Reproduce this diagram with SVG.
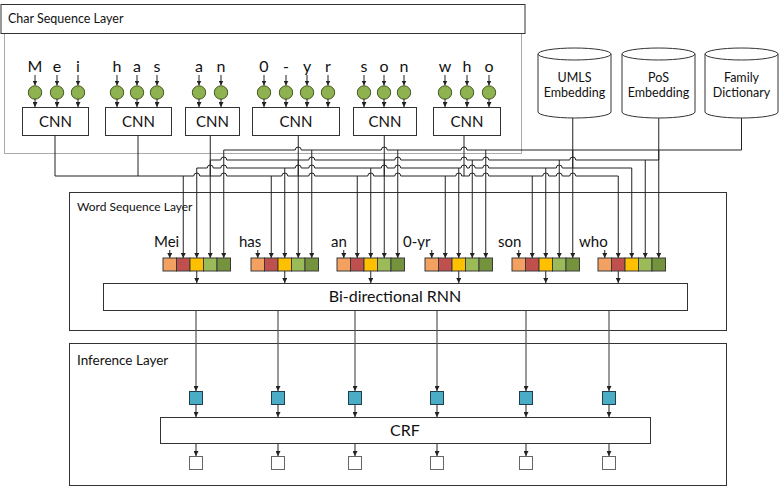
<svg xmlns="http://www.w3.org/2000/svg" width="779" height="487" viewBox="0 0 779 487">
<defs>
<marker id="ah" markerWidth="5" markerHeight="5" refX="5" refY="2.5" orient="auto" markerUnits="userSpaceOnUse"><path d="M0,0 L5,2.5 L0,5 z" fill="#222"/></marker>
</defs>
<style>
text{font-family:Lato,"Liberation Sans",sans-serif;fill:#111}
.ch{font-size:16px;text-anchor:middle}
.cnn{font-size:15px;text-anchor:middle}
.cy{font-size:12.5px;text-anchor:middle}
.lbl{font-size:15px}
.box{fill:#fff;stroke:#333;stroke-width:1}
.c{fill:#8db24f;stroke:#44561f;stroke-width:1}
.w{fill:none;stroke:#222;stroke-width:1}
.a{fill:none;stroke:#222;stroke-width:1;marker-end:url(#ah)}
.g{fill:none;stroke:#555;stroke-width:1.2;marker-end:url(#ah)}
.s{stroke:#3a3a3a;stroke-width:1}
.o{fill:#f2a160}.r{fill:#c0504d}.y{fill:#ffc000}.lg{fill:#9bbb59}.dg{fill:#74933c}
.blue{fill:#4bacc6;stroke:#1f3f4f;stroke-width:1}
.out{fill:#fff;stroke:#666;stroke-width:1}
</style>
<rect width="779" height="487" fill="#fff"/>

<g id="char-layer">
<rect x="4.5" y="4.5" width="517" height="149" fill="#fff" stroke="#aaa"/>
<rect x="1" y="4.5" width="524" height="29" class="box"/>
<text x="8" y="23" font-size="12.5">Char Sequence Layer</text>
</g>

<g id="char-mei">
<text class="ch" x="35" y="72">M</text><text class="ch" x="57" y="72">e</text><text class="ch" x="78" y="72">i</text>
<path class="a" d="M35,75 V85.5"/><path class="a" d="M57,75 V85.5"/><path class="a" d="M78,75 V85.5"/>
<circle class="c" cx="35" cy="92.5" r="6.7"/><circle class="c" cx="57" cy="92.5" r="6.7"/><circle class="c" cx="78" cy="92.5" r="6.7"/>
<path class="a" d="M35,99 V107"/><path class="a" d="M57,99 V107"/><path class="a" d="M78,99 V107"/>
<rect class="box" x="22.5" y="107.5" width="66" height="28"/><text class="cnn" x="55.5" y="127">CNN</text>
</g>
<g id="char-has">
<text class="ch" x="117" y="72">h</text><text class="ch" x="137" y="72">a</text><text class="ch" x="157" y="72">s</text>
<path class="a" d="M117,75 V85.5"/><path class="a" d="M137,75 V85.5"/><path class="a" d="M157,75 V85.5"/>
<circle class="c" cx="117" cy="92.5" r="6.7"/><circle class="c" cx="137" cy="92.5" r="6.7"/><circle class="c" cx="157" cy="92.5" r="6.7"/>
<path class="a" d="M117,99 V107"/><path class="a" d="M137,99 V107"/><path class="a" d="M157,99 V107"/>
<rect class="box" x="105.5" y="107.5" width="66" height="28"/><text class="cnn" x="138.5" y="127">CNN</text>
</g>
<g id="char-an">
<text class="ch" x="199" y="72">a</text><text class="ch" x="221" y="72">n</text>
<path class="a" d="M199,75 V85.5"/><path class="a" d="M221,75 V85.5"/>
<circle class="c" cx="199" cy="92.5" r="6.7"/><circle class="c" cx="221" cy="92.5" r="6.7"/>
<path class="a" d="M199,99 V107"/><path class="a" d="M221,99 V107"/>
<rect class="box" x="185.5" y="107.5" width="54" height="28"/><text class="cnn" x="212.5" y="127">CNN</text>
</g>
<g id="char-0yr">
<text class="ch" x="264" y="72">0</text><text class="ch" x="286" y="72">-</text><text class="ch" x="307" y="72">y</text><text class="ch" x="328" y="72">r</text>
<path class="a" d="M264,75 V85.5"/><path class="a" d="M286,75 V85.5"/><path class="a" d="M307,75 V85.5"/><path class="a" d="M328,75 V85.5"/>
<circle class="c" cx="264" cy="92.5" r="6.7"/><circle class="c" cx="286" cy="92.5" r="6.7"/><circle class="c" cx="307" cy="92.5" r="6.7"/><circle class="c" cx="328" cy="92.5" r="6.7"/>
<path class="a" d="M264,99 V107"/><path class="a" d="M286,99 V107"/><path class="a" d="M307,99 V107"/><path class="a" d="M328,99 V107"/>
<rect class="box" x="252.5" y="107.5" width="87" height="28"/><text class="cnn" x="296" y="127">CNN</text>
</g>
<g id="char-son">
<text class="ch" x="364" y="72">s</text><text class="ch" x="384" y="72">o</text><text class="ch" x="404" y="72">n</text>
<path class="a" d="M364,75 V85.5"/><path class="a" d="M384,75 V85.5"/><path class="a" d="M404,75 V85.5"/>
<circle class="c" cx="364" cy="92.5" r="6.7"/><circle class="c" cx="384" cy="92.5" r="6.7"/><circle class="c" cx="404" cy="92.5" r="6.7"/>
<path class="a" d="M364,99 V107"/><path class="a" d="M384,99 V107"/><path class="a" d="M404,99 V107"/>
<rect class="box" x="353.5" y="107.5" width="63" height="28"/><text class="cnn" x="385" y="127">CNN</text>
</g>
<g id="char-who">
<text class="ch" x="445" y="72">w</text><text class="ch" x="467" y="72">h</text><text class="ch" x="489" y="72">o</text>
<path class="a" d="M445,75 V85.5"/><path class="a" d="M467,75 V85.5"/><path class="a" d="M489,75 V85.5"/>
<circle class="c" cx="445" cy="92.5" r="6.7"/><circle class="c" cx="467" cy="92.5" r="6.7"/><circle class="c" cx="489" cy="92.5" r="6.7"/>
<path class="a" d="M445,99 V107"/><path class="a" d="M467,99 V107"/><path class="a" d="M489,99 V107"/>
<rect class="box" x="433.5" y="107.5" width="67" height="28"/><text class="cnn" x="467" y="127">CNN</text>
</g>

<g id="umls">
<path d="M538,54 V112 A36.5,6 0 0 0 611,112 V54" fill="#fff" stroke="#333"/>
<ellipse cx="574.5" cy="54" rx="36.5" ry="6" fill="#fff" stroke="#333"/>
<text class="cy" x="574.5" y="82">UMLS</text><text class="cy" x="574.5" y="97">Embedding</text>
</g>
<g id="pos">
<path d="M622,54 V112 A36.5,6 0 0 0 695,112 V54" fill="#fff" stroke="#333"/>
<ellipse cx="658.5" cy="54" rx="36.5" ry="6" fill="#fff" stroke="#333"/>
<text class="cy" x="658.5" y="82">PoS</text><text class="cy" x="658.5" y="97">Embedding</text>
</g>
<g id="family">
<path d="M705,54 V112 A36.5,6 0 0 0 778,112 V54" fill="#fff" stroke="#333"/>
<ellipse cx="741.5" cy="54" rx="36.5" ry="6" fill="#fff" stroke="#333"/>
<text class="cy" x="741.5" y="82">Family</text><text class="cy" x="741.5" y="97">Dictionary</text>
</g>

<g id="word-layer">
<rect x="69.5" y="192.5" width="657" height="138" fill="none" stroke="#333"/>
<text x="77" y="211" font-size="12">Word Sequence Layer</text>
</g>
<g id="inference-layer">
<rect x="69.5" y="343.5" width="657" height="142" fill="none" stroke="#333"/>
<text x="77" y="365" font-size="13.5">Inference Layer</text>
</g>

<g id="connectors">
<path class="w" d="M55,135 V176 M138,135 V176 M210.25,135 V176 M298.25,135 V176 M384.25,135 V176 M464,135 V176 M572.75,118 V168 M658.75,118 V160 M741.5,118 V150"/>
<path class="w" d="M223.75,150 H295.25 A3,3 0 0 1 301.25,150 H381.25 A3,3 0 0 1 387.25,150 H461 A3,3 0 0 1 467,150 H741.5"/>
<path class="w" d="M210.25,160 H220.75 A3,3 0 0 1 226.75,160 H308.75 A3,3 0 0 1 314.75,160 H394.75 A3,3 0 0 1 400.75,160 H461 A3,3 0 0 1 467,160 H482.75 A3,3 0 0 1 488.75,160 H569.75 A3,3 0 0 1 575.75,160 H658.75"/>
<path class="w" d="M196.75,168 H207.25 A3,3 0 0 1 213.25,168 H220.75 A3,3 0 0 1 226.75,168 H295.25 A3,3 0 0 1 301.25,168 H308.75 A3,3 0 0 1 314.75,168 H381.25 A3,3 0 0 1 387.25,168 H394.75 A3,3 0 0 1 400.75,168 H461 A3,3 0 0 1 467,168 H469.25 A3,3 0 0 1 475.25,168 H482.75 A3,3 0 0 1 488.75,168 H556.25 A3,3 0 0 1 562.25,168 H631.75"/>
<path class="w" d="M55,176 H193.75 A3,3 0 0 1 199.75,176 H220.75 A3,3 0 0 1 226.75,176 H281.75 A3,3 0 0 1 287.75,176 H308.75 A3,3 0 0 1 314.75,176 H367.75 A3,3 0 0 1 373.75,176 H394.75 A3,3 0 0 1 400.75,176 H455.75 A3,3 0 0 1 461.75,176 H469.25 A3,3 0 0 1 475.25,176 H482.75 A3,3 0 0 1 488.75,176 H542.75 A3,3 0 0 1 548.75,176 H556.25 A3,3 0 0 1 562.25,176 H569.75 A3,3 0 0 1 575.75,176 H618.25"/>
<path class="a" d="M183.25,176 V258"/><path class="a" d="M271.25,176 V258"/><path class="a" d="M357.25,176 V258"/><path class="a" d="M445.25,176 V258"/><path class="a" d="M532.25,176 V258"/><path class="a" d="M618.25,176 V258"/>
<path class="a" d="M196.75,168 V258"/><path class="a" d="M284.75,168 V258"/><path class="a" d="M370.75,168 V258"/><path class="a" d="M458.75,168 V258"/><path class="a" d="M545.75,168 V258"/><path class="a" d="M631.75,168 V258"/>
<path class="a" d="M210.25,160 V258"/><path class="a" d="M298.25,160 V258"/><path class="a" d="M384.25,160 V258"/><path class="a" d="M472.25,160 V258"/><path class="a" d="M559.25,160 V258"/><path class="a" d="M645.25,160 V258"/>
<path class="a" d="M223.75,150 V258"/><path class="a" d="M311.75,150 V258"/><path class="a" d="M397.75,150 V258"/><path class="a" d="M485.75,150 V258"/><path class="a" d="M572.75,150 V258"/><path class="a" d="M658.75,150 V258"/>
<path class="a" d="M169.75,250 V258"/><path class="a" d="M257.75,250 V258"/><path class="a" d="M343.75,250 V258"/><path class="a" d="M431.75,250 V258"/><path class="a" d="M518.75,250 V258"/><path class="a" d="M604.75,250 V258"/>
<path class="a" d="M196.75,271 V283"/><path class="a" d="M284.75,271 V283"/><path class="a" d="M370.75,271 V283"/><path class="a" d="M458.75,271 V283"/><path class="a" d="M545.75,271 V283"/><path class="a" d="M618.25,271 V283"/>
<path class="g" d="M196,310 V391"/><path class="g" d="M278,310 V391"/><path class="g" d="M355,310 V391"/><path class="g" d="M437,310 V391"/><path class="g" d="M526,310 V391"/><path class="g" d="M609,310 V391"/>
<path class="a" d="M196,404 V417"/><path class="a" d="M278,404 V417"/><path class="a" d="M355,404 V417"/><path class="a" d="M437,404 V417"/><path class="a" d="M526,404 V417"/><path class="a" d="M609,404 V417"/>
<path class="a" d="M196,443 V456"/><path class="a" d="M278,443 V456"/><path class="a" d="M355,443 V456"/><path class="a" d="M437,443 V456"/><path class="a" d="M526,443 V456"/><path class="a" d="M609,443 V456"/>
</g>

<g id="vec-mei"><text class="lbl" x="154" y="247">Mei</text>
<rect class="o s" x="163" y="258" width="13.5" height="13"/><rect class="r s" x="176.5" y="258" width="13.5" height="13"/><rect class="y s" x="190" y="258" width="13.5" height="13"/><rect class="lg s" x="203.5" y="258" width="13.5" height="13"/><rect class="dg s" x="217" y="258" width="13.5" height="13"/></g>
<g id="vec-has"><text class="lbl" x="239" y="247">has</text>
<rect class="o s" x="251" y="258" width="13.5" height="13"/><rect class="r s" x="264.5" y="258" width="13.5" height="13"/><rect class="y s" x="278" y="258" width="13.5" height="13"/><rect class="lg s" x="291.5" y="258" width="13.5" height="13"/><rect class="dg s" x="305" y="258" width="13.5" height="13"/></g>
<g id="vec-an"><text class="lbl" x="331" y="247">an</text>
<rect class="o s" x="337" y="258" width="13.5" height="13"/><rect class="r s" x="350.5" y="258" width="13.5" height="13"/><rect class="y s" x="364" y="258" width="13.5" height="13"/><rect class="lg s" x="377.5" y="258" width="13.5" height="13"/><rect class="dg s" x="391" y="258" width="13.5" height="13"/></g>
<g id="vec-0yr"><text class="lbl" x="403" y="247">0-yr</text>
<rect class="o s" x="425" y="258" width="13.5" height="13"/><rect class="r s" x="438.5" y="258" width="13.5" height="13"/><rect class="y s" x="452" y="258" width="13.5" height="13"/><rect class="lg s" x="465.5" y="258" width="13.5" height="13"/><rect class="dg s" x="479" y="258" width="13.5" height="13"/></g>
<g id="vec-son"><text class="lbl" x="498" y="247">son</text>
<rect class="o s" x="512" y="258" width="13.5" height="13"/><rect class="r s" x="525.5" y="258" width="13.5" height="13"/><rect class="y s" x="539" y="258" width="13.5" height="13"/><rect class="lg s" x="552.5" y="258" width="13.5" height="13"/><rect class="dg s" x="566" y="258" width="13.5" height="13"/></g>
<g id="vec-who"><text class="lbl" x="579" y="247">who</text>
<rect class="o s" x="598" y="258" width="13.5" height="13"/><rect class="r s" x="611.5" y="258" width="13.5" height="13"/><rect class="y s" x="625" y="258" width="13.5" height="13"/><rect class="lg s" x="638.5" y="258" width="13.5" height="13"/><rect class="dg s" x="652" y="258" width="13.5" height="13"/></g>

<g id="rnn"><rect class="box" x="103.5" y="283.5" width="584" height="27"/><text x="395" y="302" font-size="16" text-anchor="middle">Bi-directional RNN</text></g>

<g id="emissions">
<rect class="blue" x="189.5" y="391.5" width="13" height="13"/><rect class="blue" x="271.5" y="391.5" width="13" height="13"/><rect class="blue" x="348.5" y="391.5" width="13" height="13"/><rect class="blue" x="430.5" y="391.5" width="13" height="13"/><rect class="blue" x="519.5" y="391.5" width="13" height="13"/><rect class="blue" x="602.5" y="391.5" width="13" height="13"/>
</g>
<g id="crf"><rect class="box" x="160.5" y="417.5" width="490" height="26"/><text x="405" y="436" font-size="16" text-anchor="middle">CRF</text></g>
<g id="outputs">
<rect class="out" x="189.5" y="456.5" width="13" height="13"/><rect class="out" x="271.5" y="456.5" width="13" height="13"/><rect class="out" x="348.5" y="456.5" width="13" height="13"/><rect class="out" x="430.5" y="456.5" width="13" height="13"/><rect class="out" x="519.5" y="456.5" width="13" height="13"/><rect class="out" x="602.5" y="456.5" width="13" height="13"/>
</g>
</svg>
